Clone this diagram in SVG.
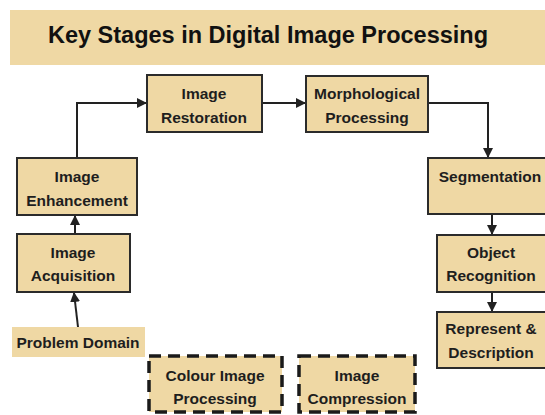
<svg xmlns="http://www.w3.org/2000/svg" width="545" height="415" viewBox="0 0 545 415">
<defs>
<marker id="ah" markerWidth="10" markerHeight="10" refX="9" refY="5" orient="auto" markerUnits="userSpaceOnUse">
<path d="M0,0 L10,5 L0,10 Z" fill="#222"/>
</marker>
</defs>
<style>
.box{fill:#efd8a4;stroke:#2b2b2b;stroke-width:2}
.dash{fill:#efd8a4;stroke:#1a1a1a;stroke-width:3.5;stroke-dasharray:12 7}
.plain{fill:#efd8a4}
.t{font-family:"Liberation Sans",Arial,sans-serif;font-weight:bold;font-size:15.5px;fill:#1e1e1e;text-anchor:middle;dominant-baseline:central}
.title{font-family:"Liberation Sans",Arial,sans-serif;font-weight:bold;font-size:23.5px;fill:#111;text-anchor:middle;dominant-baseline:central}
.c{fill:none;stroke:#222;stroke-width:2}
</style>
<rect width="545" height="415" fill="#fff"/>
<g id="title">
<rect x="10" y="10" width="540" height="55" fill="#efd8a4"/>
<text class="title" x="268" y="35">Key Stages in Digital Image Processing</text>
</g>
<g id="connectors">
<path class="c" d="M77,158 V103 H146" marker-end="url(#ah)"/>
<path class="c" d="M262,103 H305" marker-end="url(#ah)"/>
<path class="c" d="M428,103 H488 V157" marker-end="url(#ah)"/>
<path class="c" d="M492,214 V234" marker-end="url(#ah)"/>
<path class="c" d="M492,292 V311" marker-end="url(#ah)"/>
<path class="c" d="M75,234 V216" marker-end="url(#ah)"/>
<path class="c" d="M78,327 L74,293" marker-end="url(#ah)"/>
</g>
<g id="restoration">
<rect class="box" x="147" y="75" width="115" height="57"/>
<text class="t" x="204" y="93">Image</text>
<text class="t" x="204" y="117">Restoration</text>
</g>
<g id="morphological">
<rect class="box" x="306" y="76" width="122" height="56"/>
<text class="t" x="367" y="93">Morphological</text>
<text class="t" x="367" y="117">Processing</text>
</g>
<g id="enhancement">
<rect class="box" x="17" y="158" width="120" height="57"/>
<text class="t" x="77" y="176">Image</text>
<text class="t" x="77" y="200">Enhancement</text>
</g>
<g id="acquisition">
<rect class="box" x="17" y="234" width="113" height="58"/>
<text class="t" x="73" y="252">Image</text>
<text class="t" x="73" y="275">Acquisition</text>
</g>
<g id="problem">
<rect class="plain" x="12" y="327" width="133" height="30"/>
<text class="t" x="78" y="342">Problem Domain</text>
</g>
<g id="segmentation">
<rect class="box" x="428" y="158" width="120" height="56"/>
<text class="t" x="490" y="176">Segmentation</text>
</g>
<g id="recognition">
<rect class="box" x="437" y="235" width="111" height="57"/>
<text class="t" x="491" y="252">Object</text>
<text class="t" x="491" y="275">Recognition</text>
</g>
<g id="represent">
<rect class="box" x="437" y="312" width="111" height="56"/>
<text class="t" x="491" y="328">Represent &amp;</text>
<text class="t" x="491" y="352">Description</text>
</g>
<g id="colour">
<rect class="dash" x="149" y="356" width="133" height="56"/>
<text class="t" x="215" y="375">Colour Image</text>
<text class="t" x="215" y="398">Processing</text>
</g>
<g id="compression">
<rect class="dash" x="299" y="356" width="116" height="56"/>
<text class="t" x="357" y="375">Image</text>
<text class="t" x="357" y="398">Compression</text>
</g>
</svg>
